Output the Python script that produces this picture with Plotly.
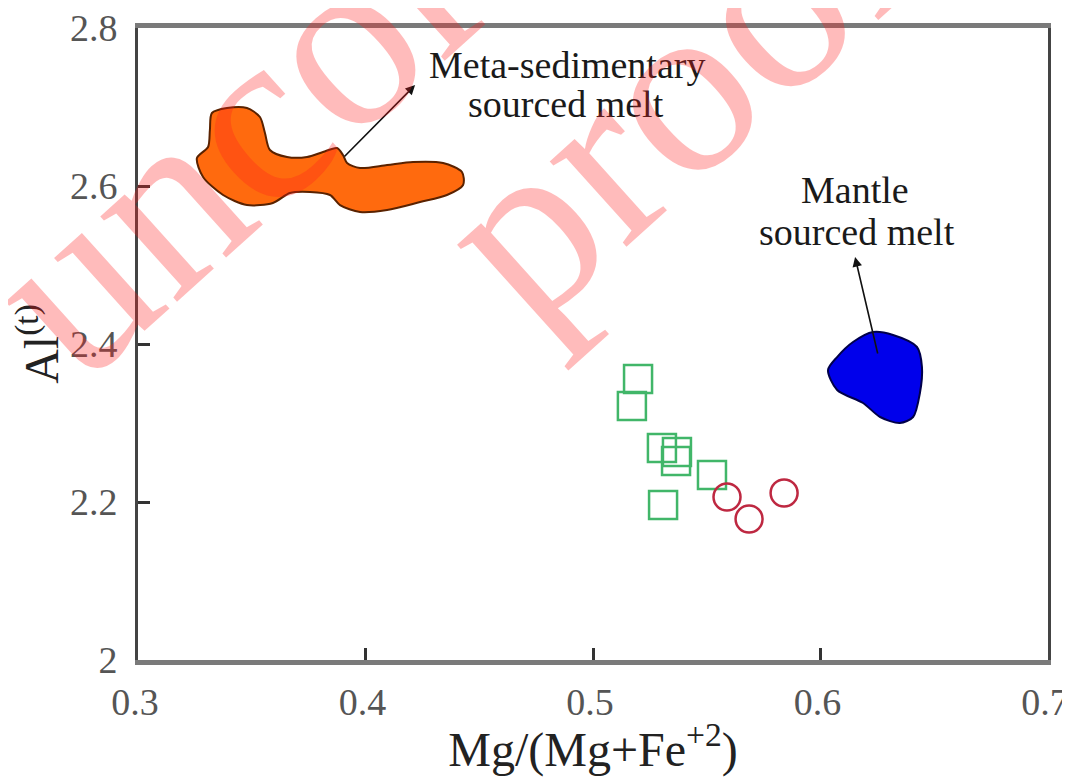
import plotly.graph_objects as go

# ---- data ----
sq_x = [0.5198, 0.5171, 0.5303, 0.5369, 0.5365, 0.5523, 0.5308]
sq_y = [2.3557, 2.3215, 2.2684, 2.2633, 2.2519, 2.2342, 2.1962]

ci_x = [0.5589, 0.5686, 0.5840]
ci_y = [2.2063, 2.1785, 2.2114]

meta_x = [0.3325, 0.3391, 0.3479, 0.3536, 0.3558, 0.3580, 0.3655, 0.3743, 0.3813, 0.3875,
          0.3901, 0.3919, 0.3976, 0.4095, 0.4209, 0.4341, 0.4424, 0.4429, 0.4358, 0.4240,
          0.4095, 0.3976, 0.3888, 0.3844, 0.3756, 0.3668, 0.3593, 0.3479, 0.3374, 0.3286,
          0.3259, 0.3308, 0.3316]
meta_y = [2.6924, 2.6987, 2.6987, 2.6873, 2.6671, 2.6456, 2.6367, 2.6367, 2.6430, 2.6481,
          2.6392, 2.6291, 2.6228, 2.6266, 2.6304, 2.6291, 2.6177, 2.6013, 2.5886, 2.5797,
          2.5696, 2.5671, 2.5759, 2.5886, 2.5924, 2.5911, 2.5785, 2.5759, 2.5886, 2.6114,
          2.6354, 2.6494, 2.6709]

mantle_x = [0.6231, 0.6319, 0.6424, 0.6446, 0.6437, 0.6407, 0.6349, 0.6262, 0.6187, 0.6073,
            0.6033, 0.6073, 0.6143]
mantle_y = [2.4152, 2.4114, 2.3962, 2.3709, 2.3380, 2.3076, 2.3000, 2.3076, 2.3253, 2.3418,
            2.3671, 2.3835, 2.4025]

x_ticks = [0.3, 0.4, 0.5, 0.6, 0.7]
y_ticks = [2.0, 2.2, 2.4, 2.6, 2.8]

FONT = "Liberation Serif, Times New Roman, serif"

fig = go.Figure()

fig.add_trace(go.Scatter(
    x=meta_x + meta_x[:1], y=meta_y + meta_y[:1], mode="lines", fill="toself",
    line=dict(color="#5a2200", width=2, shape="spline", smoothing=0.8),
    fillcolor="rgb(255,106,14)", showlegend=False, hoverinfo="skip"))

fig.add_trace(go.Scatter(
    x=mantle_x + mantle_x[:1], y=mantle_y + mantle_y[:1], mode="lines", fill="toself",
    line=dict(color="#00004a", width=2, shape="spline", smoothing=0.8),
    fillcolor="rgb(0,0,235)", showlegend=False, hoverinfo="skip"))

fig.add_trace(go.Scatter(
    x=sq_x, y=sq_y, mode="markers", showlegend=False,
    marker=dict(symbol="square-open", size=28, color="rgb(65,182,105)",
                line=dict(width=2.5, color="rgb(65,182,105)"))))

fig.add_trace(go.Scatter(
    x=ci_x, y=ci_y, mode="markers", showlegend=False,
    marker=dict(symbol="circle-open", size=27, color="rgb(190,40,65)",
                line=dict(width=2.5, color="rgb(190,40,65)"))))

ann = []
text_font = dict(family=FONT, size=38, color="#1a1a1a")
for tx, ty, t in [(0.4886, 2.7532, "Meta-sedimentary"), (0.4881, 2.7038, "sourced melt"),
                  (0.6152, 2.5949, "Mantle"), (0.6160, 2.5418, "sourced melt")]:
    ann.append(dict(x=tx, y=ty, xref="x", yref="y", text=t, showarrow=False,
                    font=text_font, xanchor="center", yanchor="middle"))

# arrows (head near the label, tail on the field)
for hx, hy, tx, ty in [(0.4218, 2.7278, 0.3901, 2.6354), (0.6152, 2.5101, 0.6253, 2.3861)]:
    ann.append(dict(x=hx, y=hy, ax=tx, ay=ty, xref="x", yref="y", axref="x", ayref="y",
                    text="", showarrow=True, arrowhead=2, arrowsize=1.2, arrowwidth=1.6,
                    arrowcolor="#111"))

# watermark
wm_font = dict(family=FONT, size=250, color="rgba(255,30,30,0.3)")
ann.append(dict(x=0.356, y=1.152, xref="paper", yref="paper", text="uncorrected",
                showarrow=False, textangle=-42, font=wm_font,
                xanchor="center", yanchor="middle"))
ann.append(dict(x=0.590, y=0.902, xref="paper", yref="paper", text="proof",
                showarrow=False, textangle=-42, font=wm_font,
                xanchor="center", yanchor="middle"))

# the page body adds an 8px margin, so the figure is sized to fit the window
fig.update_layout(
    width=1062, height=769,
    margin=dict(l=130, r=22, t=20, b=117),
    paper_bgcolor="white", plot_bgcolor="white",
    annotations=ann,
    xaxis=dict(range=[0.3, 0.7], tickvals=x_ticks, ticktext=[f"{v:g}" for v in x_ticks],
               showgrid=False, zeroline=False, automargin=False,
               showline=True, linecolor="#7a7a7a", linewidth=5, mirror=True,
               ticks="inside", ticklen=12, tickwidth=2.5, tickcolor="#333",
               ticklabelstandoff=4, ticklabelshift=-3, ticklabeloverflow="allow",
               tickfont=dict(family=FONT, size=38, color="#555"),
               title=dict(text="Mg/(Mg+Fe<sup>+2</sup>)", standoff=6,
                          font=dict(family=FONT, size=48, color="#222"))),
    yaxis=dict(range=[2.0, 2.8], tickvals=y_ticks, ticktext=[f"{v:g}" for v in y_ticks],
               showgrid=False, zeroline=False, automargin=False,
               showline=True, linecolor="#444", linewidth=3, mirror=True,
               ticks="inside", ticklen=12, tickwidth=2.5, tickcolor="#333",
               ticklabelstandoff=10, ticklabeloverflow="allow",
               tickfont=dict(family=FONT, size=38, color="#555"),
               title=dict(text="Al<sup>(t)</sup>", standoff=28,
                          font=dict(family=FONT, size=48, color="#222"))),
)

fig.write_html("out.html")
